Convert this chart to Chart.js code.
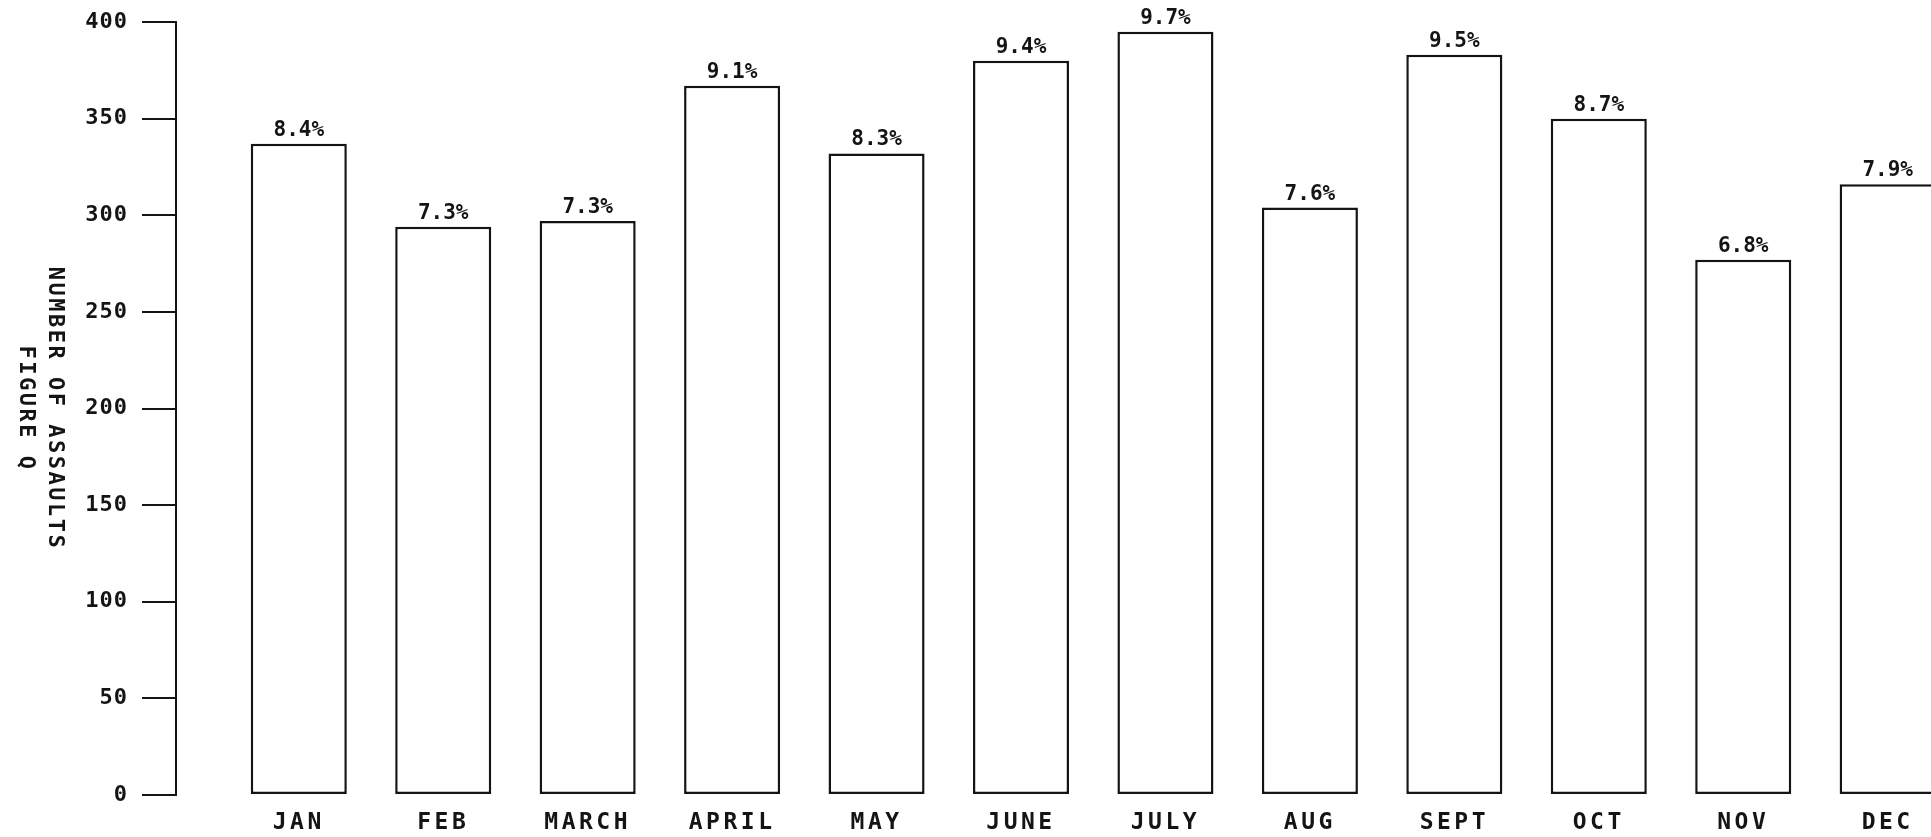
<!DOCTYPE html>
<html>
<head>
<meta charset="utf-8">
<title>Number of assaults by month</title>
<script src="https://cdn.jsdelivr.net/npm/chart.js@4.4.1/dist/chart.umd.min.js"></script>
<style>
  html, body { margin: 0; padding: 0; background: #fff; overflow: hidden; }
</style>
</head>
<body>
<canvas id="chartAssaults" width="1931" height="837"></canvas>
<script>
const months = ["JAN", "FEB", "MARCH", "APRIL", "MAY", "JUNE", "JULY", "AUG", "SEPT", "OCT", "NOV", "DEC"];
const assaults = [337, 294, 297, 367, 332, 380, 395, 304, 383, 350, 277, 316];
const shares = ["8.4%", "7.3%", "7.3%", "9.1%", "8.3%", "9.4%", "9.7%", "7.6%", "9.5%", "8.7%", "6.8%", "7.9%"];
const yTicks = [0, 50, 100, 150, 200, 250, 300, 350, 400];
const axisTitle = ["NUMBER OF ASSAULTS", "FIGURE Q"];

const INK = "#141414";
const FONT = "'DejaVu Sans Mono', monospace";

// bars go on a linear x scale so the y axis can stand off from JAN
const points = assaults.map((v, i) => ({ x: i, y: v }));

// percentage above each bar
const shareLabels = {
  id: "shareLabels",
  afterDatasetsDraw(chart) {
    const ctx = chart.ctx;
    const bars = chart.getDatasetMeta(0).data;
    ctx.save();
    ctx.font = "bold 21px " + FONT;
    ctx.fillStyle = INK;
    ctx.textAlign = "center";
    ctx.textBaseline = "alphabetic";
    bars.forEach((bar, i) => {
      ctx.fillText(shares[i], bar.x, bar.y - 8);
    });
    ctx.restore();
  },
};

// y title reads top to bottom, two lines
const sideTitle = {
  id: "sideTitle",
  afterDraw(chart) {
    const ctx = chart.ctx;
    const area = chart.chartArea;
    const midY = (area.top + area.bottom) / 2;
    ctx.save();
    ctx.font = "bold 22px " + FONT;
    ctx.letterSpacing = "2.5px";
    ctx.fillStyle = INK;
    ctx.textAlign = "center";
    ctx.textBaseline = "middle";
    axisTitle.forEach((line, i) => {
      ctx.save();
      ctx.translate(55 - i * 29, midY);
      ctx.rotate(Math.PI / 2);
      ctx.fillText(line, 0, 0);
      ctx.restore();
    });
    ctx.restore();
  },
};

// Chart.js has no letter spacing option for ticks, so wrap drawLabels
function spaceLabels(scale, spacing) {
  if (scale._spaced) return;
  const draw = scale.drawLabels;
  scale.drawLabels = function (area) {
    this.ctx.save();
    this.ctx.letterSpacing = spacing;
    draw.call(this, area);
    this.ctx.restore();
  };
  scale._spaced = true;
}

const labelSpacing = {
  id: "labelSpacing",
  afterLayout(chart) {
    spaceLabels(chart.scales.x, "3.5px");
    spaceLabels(chart.scales.y, "1px");
  },
};

new Chart(document.getElementById("chartAssaults"), {
  type: "bar",
  data: {
    datasets: [
      {
        label: "Assaults",
        data: points,
        backgroundColor: "#ffffff",
        borderColor: INK,
        borderWidth: 2.5,
        borderSkipped: false,
        barPercentage: 0.665,
        categoryPercentage: 1,
      },
    ],
  },
  options: {
    responsive: false,
    animation: false,
    layout: { padding: { top: 22, left: 0, right: 0, bottom: 0 } },
    plugins: {
      legend: { display: false },
      tooltip: { enabled: false },
    },
    scales: {
      x: {
        type: "linear",
        bounds: "data",
        offset: false,
        min: -0.85,
        max: 11.3,
        // one tick per month
        afterBuildTicks: (s) => {
          s.ticks = months.map((m, i) => ({ value: i }));
        },
        afterFit: (s) => {
          s.height = 42;
        },
        grid: { display: false, drawTicks: false },
        border: { display: false },
        ticks: {
          autoSkip: false,
          maxRotation: 0,
          padding: 14,
          color: INK,
          font: { family: FONT, size: 23, weight: "bold" },
          callback: (v) => months[v],
        },
      },
      y: {
        min: yTicks[0],
        max: yTicks[yTicks.length - 1],
        // fixed axis width; the top label needs no extra room
        afterFit: (s) => {
          s.width = 176;
          s.paddingTop = 0;
          s.paddingBottom = 0;
        },
        grid: {
          drawOnChartArea: false,
          tickLength: 34,
          color: INK,
          lineWidth: 2,
        },
        border: { color: INK, width: 2 },
        ticks: {
          stepSize: yTicks[1] - yTicks[0],
          padding: 14,
          color: INK,
          font: { family: FONT, size: 22, weight: "bold" },
        },
      },
    },
  },
  plugins: [shareLabels, sideTitle, labelSpacing],
});
</script>
</body>
</html>
